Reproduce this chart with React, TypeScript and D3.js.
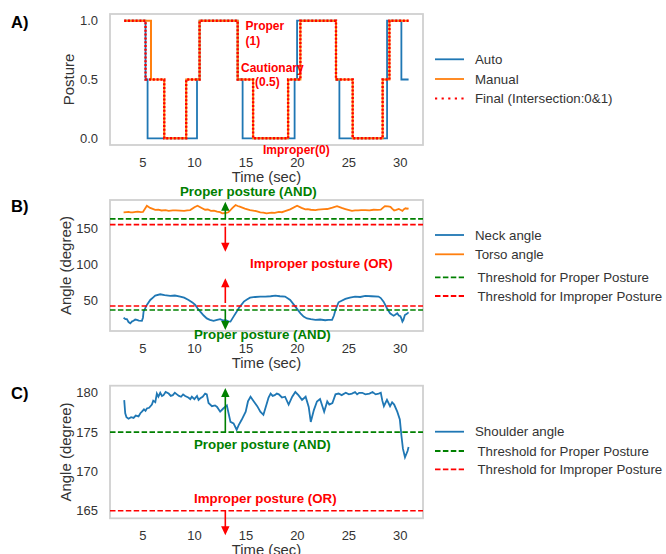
import React from "react";
import * as d3 from "d3";

// ---------- Data ----------
const autoT = [3.18, 5.25, 5.45, 10.25, 10.5, 14.2, 14.68, 19.73, 19.97, 23.75, 24.08, 28.71, 30.1, 30.8];
const autoV = [1, 0.5, 0, 0.5, 1, 0.5, 0, 0.5, 1, 0.5, 0, 1, 0.5, 0.5];
const manualT = [3.18, 5.78, 7.07, 9.2, 10.5, 14.2, 15.7, 19.1, 20.29, 23.75, 25.37, 28.28, 28.94, 30.8];
const manualV = [1, 0.5, 0, 0.5, 1, 0.5, 0, 0.5, 1, 0.5, 0, 0.5, 1, 1];
const finalT = [3.18, 5.25, 7.07, 9.2, 10.5, 14.2, 15.7, 19.1, 20.29, 23.75, 25.37, 28.28, 28.94, 30.8];
const finalV = [1, 0.5, 0, 0.5, 1, 0.5, 0, 0.5, 1, 0.5, 0, 0.5, 1, 1];

const torsoT = [3.12, 3.4, 3.6, 3.8, 4.0, 4.3, 4.5, 4.8, 5.0, 5.2, 5.38, 5.7, 6.19, 6.5, 6.8, 7.2, 7.5, 7.9, 8.2, 8.6, 9.0, 9.3, 9.59, 10.0, 10.3, 10.7, 11.04, 11.3, 11.6, 11.9, 12.2, 12.5, 12.7, 13.0, 13.3, 13.7, 14.0, 14.2, 14.4, 14.9, 15.4, 15.7, 16.0, 16.4, 16.7, 17.0, 17.5, 17.8, 18.2, 18.5, 18.8, 19.3, 19.97, 20.4, 20.77, 21.0, 21.3, 21.75, 22.0, 22.3, 22.6, 22.9, 23.4, 23.85, 24.3, 24.66, 25.3, 25.6, 25.9, 26.2, 26.6, 27.0, 27.4, 27.8, 28.1, 28.3, 28.5, 28.8, 29.04, 29.2, 29.4, 29.6, 29.85, 30.0, 30.2, 30.35, 30.5, 30.65, 30.8];
const torsoV = [172, 172.3, 172.5, 171.8, 172, 172.6, 172.8, 172.2, 172.5, 177, 181, 178, 175.2, 175.6, 174.5, 174.9, 174, 174.6, 174.5, 174.2, 174, 174.7, 175, 179, 181, 178, 175.5, 175.8, 174, 174.4, 172.8, 172.2, 170.5, 171, 172, 178, 182, 180.6, 179.7, 177, 175, 174.3, 173.5, 172, 171.6, 170.5, 171.5, 171.2, 172.5, 172.1, 173.5, 176, 181, 178, 176, 176.4, 175.5, 175, 175.6, 176, 176.3, 176.5, 178.5, 180.5, 178, 176.5, 174, 174.6, 174.5, 174.9, 175, 174.6, 175.5, 175.2, 175.5, 178, 180.5, 180, 179.5, 177, 174.5, 175.3, 176.5, 175.5, 174, 176.2, 177.5, 176.9, 177.5];

const neckT = [3.12, 3.3, 3.44, 3.6, 3.77, 3.95, 4.09, 4.25, 4.41, 4.6, 4.9, 5.0, 5.06, 5.38, 5.71, 6.0, 6.19, 6.68, 7.1, 7.65, 8.1, 8.62, 9.0, 9.43, 9.8, 10.08, 10.3, 10.57, 10.9, 11.2, 11.5, 11.86, 12.2, 12.5, 12.8, 13.0, 13.3, 13.5, 13.8, 14.05, 14.3, 14.8, 15.1, 15.4, 15.9, 16.4, 16.89, 17.4, 17.86, 18.3, 18.8, 19.3, 19.8, 20.3, 20.6, 20.93, 21.3, 21.75, 22.2, 22.7, 23.0, 23.37, 23.55, 23.7, 24.0, 24.66, 25.1, 25.6, 26.1, 26.6, 27.2, 27.88, 28.1, 28.37, 28.7, 29.0, 29.2, 29.35, 29.5, 29.7, 29.85, 30.0, 30.1, 30.2, 30.3, 30.44, 30.6, 30.8];
const neckV = [27, 25, 25, 21, 19.3, 22, 22.7, 24.5, 24, 23, 22.7, 27, 35.3, 44.5, 51.4, 55, 57.4, 59.2, 58, 56.9, 57.5, 56, 54.5, 51.4, 48, 44.5, 40, 35.3, 30, 26, 24, 22.7, 24, 25, 23, 24, 22, 21.6, 28.5, 34, 40, 49.1, 52, 54.6, 55.5, 56, 56, 56.5, 57.4, 56.5, 56, 51.4, 42.2, 33, 28.5, 26, 25, 24, 24.5, 23.5, 24, 24, 30, 37.6, 48.2, 52.8, 54.5, 56, 55.5, 57, 56.5, 56, 54, 49, 40, 33, 31, 29.7, 31, 33, 30, 29, 26, 21.6, 24, 30.6, 32, 34.4];

const shoulderT = [3.18, 3.28, 3.4, 3.6, 3.85, 4.09, 4.3, 4.57, 4.75, 4.9, 5.1, 5.25, 5.38, 5.6, 5.87, 6.0, 6.2, 6.35, 6.5, 6.68, 6.85, 7.0, 7.2, 7.5, 7.7, 7.9, 8.1, 8.3, 8.5, 8.7, 8.9, 9.1, 9.4, 9.6, 9.75, 10.0, 10.25, 10.4, 10.57, 10.8, 11.04, 11.2, 11.37, 11.7, 12.0, 12.2, 12.5, 12.8, 13.15, 13.3, 13.5, 13.8, 14.1, 14.3, 14.6, 14.98, 15.2, 15.45, 15.77, 16.1, 16.4, 16.7, 17.0, 17.2, 17.4, 17.6, 17.8, 18.0, 18.2, 18.5, 18.8, 19.15, 19.5, 19.8, 20.1, 20.45, 20.8, 21.1, 21.3, 21.6, 21.9, 22.2, 22.6, 22.9, 23.1, 23.4, 23.7, 24.0, 24.3, 24.7, 25.0, 25.3, 25.6, 25.8, 26.0, 26.3, 26.6, 27.0, 27.3, 27.6, 27.9, 28.1, 28.25, 28.4, 28.7, 29.0, 29.2, 29.4, 29.7, 29.95, 30.1, 30.25, 30.45, 30.7, 30.8];
const shoulderV = [179.07, 177.4, 176.9, 176.7, 176.9, 176.8, 177.1, 177, 177.4, 177.6, 177.9, 177.7, 178, 178.1, 178.5, 179, 178.8, 179.9, 179.5, 180, 179.6, 179.7, 180.1, 179.9, 179.6, 179.7, 180, 179.8, 179.6, 179.5, 179.8, 179.6, 179.4, 179.2, 179.5, 179.2, 179.6, 179.1, 179.3, 179.5, 179.9, 179.8, 178.7, 178.3, 178.4, 178.2, 177.6, 178, 178.4, 177.5, 176.3, 176.1, 175.3, 175.9, 176.6, 177.6, 178.9, 179.5, 178.9, 178.3, 177.6, 177.2, 178.5, 179.4, 179.9, 179.6, 179.7, 179.9, 179.8, 179.4, 179.5, 178.5, 179.5, 180.1, 179.7, 179.1, 179.5, 178.2, 176.3, 177.8, 178.9, 179.2, 177.6, 178.9, 178.5, 178.7, 179.8, 179.9, 179.7, 180, 179.8, 179.9, 180.1, 179.8, 180, 180, 179.8, 179.9, 180.1, 179.8, 179.9, 180, 179, 178.3, 179.1, 178.3, 178.8, 178.5, 177.6, 176.6, 174.6, 172.9, 171.8, 172.6, 173.1];

const xTicks = [5, 10, 15, 20, 25, 30];
const aTicks = [0, 0.5, 1.0];
const bTicks = [50, 100, 150];
const cTicks = [165, 170, 175, 180];

const neckProper = 37.5;
const neckImproper = 43;
const torsoProper = 163;
const torsoImproper = 155;
const shoulderProper = 175;
const shoulderImproper = 165;
const arrowTime = 13;

// ---------- Styles ----------
const BLUE = "#1f77b4";
const ORANGE = "#ff7f0e";
const GREEN = "#008000";
const RED = "#ff0000";
const FRAME = "#d0d0d0";
const TXT = "#333333";
const FONT = "'Liberation Sans', Arial, sans-serif";

const L = 110, R = 423;
const x = d3.scaleLinear().domain([1.8, 32.2]).range([L, R]);
const yA = d3.scaleLinear().domain([-0.057, 1.057]).range([145, 14]);
const yB = d3.scaleLinear().domain([8.7, 188.9]).range([331, 200]);
const yC = d3.scaleLinear().domain([164.05, 180.9]).range([518.3, 385.7]);

const zip = (t: number[], v: number[]) => t.map((d, i) => [d, v[i]] as [number, number]);

function linePath(t: number[], v: number[], y: d3.ScaleLinear<number, number>, step = false) {
  const g = d3.line<[number, number]>().x(d => x(d[0])).y(d => y(d[1]));
  if (step) g.curve(d3.curveStepAfter);
  return g(zip(t, v)) || "";
}

function Arrow({ px, y0, y1, color }: { px: number; y0: number; y1: number; color: string }) {
  const dir = y1 < y0 ? -1 : 1;
  const hl = 9, hw = 4.2, sw = 0.8;
  const yb = y1 - dir * hl;
  const d = `M${px - sw},${y0} L${px - sw},${yb} L${px - hw},${yb} L${px},${y1} L${px + hw},${yb} L${px + sw},${yb} L${px + sw},${y0} Z`;
  return <path d={d} fill={color} stroke="none" />;
}

function Frame({ top, bottom }: { top: number; bottom: number }) {
  return <rect x={L} y={top} width={R - L} height={bottom - top} fill="none" stroke={FRAME} strokeWidth={1.8} />;
}

function XAxis({ bottom }: { bottom: number }) {
  return (
    <g>
      {xTicks.map(t => (
        <text key={t} x={x(t)} y={bottom + 17} textAnchor="middle" dominantBaseline="central" fontSize={13} fill={TXT}>{t}</text>
      ))}
      <text x={(L + R) / 2} y={bottom + 32} textAnchor="middle" dominantBaseline="central" fontSize={14.8} fill={TXT}>Time (sec)</text>
    </g>
  );
}

function YAxis({ ticks, y, fmt, label, cx }: { ticks: number[]; y: d3.ScaleLinear<number, number>; fmt: (v: number) => string; label: string; cx: number }) {
  const r = y.range();
  const cy = (r[0] + r[1]) / 2;
  return (
    <g>
      {ticks.map(t => (
        <text key={t} x={98} y={y(t)} textAnchor="end" dominantBaseline="central" fontSize={13} fill={TXT}>{fmt(t)}</text>
      ))}
      <text transform={`translate(${cx},${cy}) rotate(-90)`} textAnchor="middle" dominantBaseline="central" fontSize={15} fill={TXT}>{label}</text>
    </g>
  );
}

function HLine({ v, y, color }: { v: number; y: d3.ScaleLinear<number, number>; color: string }) {
  return <line x1={L} x2={R} y1={y(v)} y2={y(v)} stroke={color} strokeWidth={1.6} strokeDasharray="5.5,2.4" />;
}

type LegendItem = { label: string; color: string; dash?: string; tx?: number };
function Legend({ items, ys }: { items: LegendItem[]; ys: number[] }) {
  return (
    <g>
      {items.map((it, i) => (
        <g key={i}>
          <line x1={435} x2={464} y1={ys[i]} y2={ys[i]} stroke={it.color} strokeWidth={it.dash === "dot" ? 2.2 : 1.8}
            strokeDasharray={it.dash === "dot" ? "2.2,4.4" : it.dash === "dash" ? "5.5,2.4" : undefined} />
          <text x={it.tx ?? 475} y={ys[i]} dominantBaseline="central" fontSize={13.3} fill={TXT}>{it.label}</text>
        </g>
      ))}
    </g>
  );
}

export default function App() {
  return (
    <svg width={666} height={554} style={{ position: "absolute", left: 0, top: 0, background: "#fff" }} fontFamily={FONT}>
      <rect x={0} y={0} width={666} height={554} fill="#fff" />

      {/* Panel A */}
      <text x={11} y={22} fontSize={16.5} fontWeight="bold" dominantBaseline="central" fill="#000">A)</text>
      <Frame top={14} bottom={145} />
      <path d={linePath(autoT, autoV, yA, true)} fill="none" stroke={BLUE} strokeWidth={1.8} />
      <path d={linePath(manualT, manualV, yA, true)} fill="none" stroke={ORANGE} strokeWidth={2} />
      <path d={linePath(finalT, finalV, yA, true)} fill="none" stroke={RED} strokeWidth={2.4} strokeDasharray="2,1.8" />
      <YAxis ticks={aTicks} y={yA} fmt={v => v.toFixed(1)} label="Posture" cx={68} />
      <XAxis bottom={145} />
      <g fontSize={12} fontWeight="bold" fill={RED}>
        <text x={245.5} y={25.5} dominantBaseline="central">Proper</text>
        <text x={245.5} y={41} dominantBaseline="central">(1)</text>
        <text x={241} y={67.5} dominantBaseline="central">Cautionary</text>
        <text x={255} y={81.5} dominantBaseline="central">(0.5)</text>
        <text x={263} y={150} dominantBaseline="central">Improper(0)</text>
      </g>
      <Legend
        items={[
          { label: "Auto", color: BLUE },
          { label: "Manual", color: ORANGE },
          { label: "Final (Intersection:0&1)", color: RED, dash: "dot" },
        ]}
        ys={[59.3, 79, 98.5]}
      />

      {/* Panel B */}
      <text x={11} y={206} fontSize={16.5} fontWeight="bold" dominantBaseline="central" fill="#000">B)</text>
      <Frame top={200} bottom={331} />
      <path d={linePath(neckT, neckV, yB)} fill="none" stroke={BLUE} strokeWidth={1.8} />
      <path d={linePath(torsoT, torsoV, yB)} fill="none" stroke={ORANGE} strokeWidth={1.8} />
      <HLine v={torsoProper} y={yB} color={GREEN} />
      <HLine v={neckProper} y={yB} color={GREEN} />
      <HLine v={torsoImproper} y={yB} color={RED} />
      <HLine v={neckImproper} y={yB} color={RED} />
      <Arrow px={x(arrowTime)} y0={yB(torsoProper)} y1={yB(186.6)} color={GREEN} />
      <Arrow px={x(arrowTime)} y0={yB(torsoImproper) + 2} y1={yB(117.8)} color={RED} />
      <Arrow px={x(arrowTime)} y0={yB(neckImproper) - 3} y1={yB(81.2)} color={RED} />
      <Arrow px={x(arrowTime)} y0={yB(neckProper)} y1={yB(10.1)} color={GREEN} />
      <YAxis ticks={bTicks} y={yB} fmt={v => String(v)} label="Angle (degree)" cx={65} />
      <XAxis bottom={331} />
      <g fontSize={13.3} fontWeight="bold">
        <text x={180} y={191} dominantBaseline="central" fill={GREEN}>Proper posture (AND)</text>
        <text x={250} y={263.5} dominantBaseline="central" fill={RED}>Improper posture (OR)</text>
        <text x={194} y={334.5} dominantBaseline="central" fill={GREEN}>Proper posture (AND)</text>
      </g>
      <Legend
        items={[
          { label: "Neck angle", color: BLUE },
          { label: "Torso angle", color: ORANGE },
          { label: "Threshold for Proper Posture", color: GREEN, dash: "dash", tx: 477.5 },
          { label: "Threshold for Improper Posture", color: RED, dash: "dash", tx: 477.5 },
        ]}
        ys={[235, 254.3, 277.3, 296]}
      />

      {/* Panel C */}
      <text x={11} y={393} fontSize={16.5} fontWeight="bold" dominantBaseline="central" fill="#000">C)</text>
      <Frame top={385.7} bottom={518.3} />
      <path d={linePath(shoulderT, shoulderV, yC)} fill="none" stroke={BLUE} strokeWidth={1.8} />
      <HLine v={shoulderProper} y={yC} color={GREEN} />
      <HLine v={shoulderImproper} y={yC} color={RED} />
      <Arrow px={x(arrowTime)} y0={yC(shoulderProper)} y1={yC(180.6)} color={GREEN} />
      <Arrow px={x(arrowTime)} y0={yC(shoulderImproper)} y1={yC(161.9)} color={RED} />
      <YAxis ticks={cTicks} y={yC} fmt={v => String(v)} label="Angle (degree)" cx={65} />
      <XAxis bottom={518.3} />
      <g fontSize={13.3} fontWeight="bold">
        <text x={194} y={444} dominantBaseline="central" fill={GREEN}>Proper posture (AND)</text>
        <text x={194} y={498.3} dominantBaseline="central" fill={RED}>Improper posture (OR)</text>
      </g>
      <Legend
        items={[
          { label: "Shoulder angle", color: BLUE },
          { label: "Threshold for Proper Posture", color: GREEN, dash: "dash", tx: 477.5 },
          { label: "Threshold for Improper Posture", color: RED, dash: "dash", tx: 477.5 },
        ]}
        ys={[431.7, 451, 469.3]}
      />
    </svg>
  );
}
